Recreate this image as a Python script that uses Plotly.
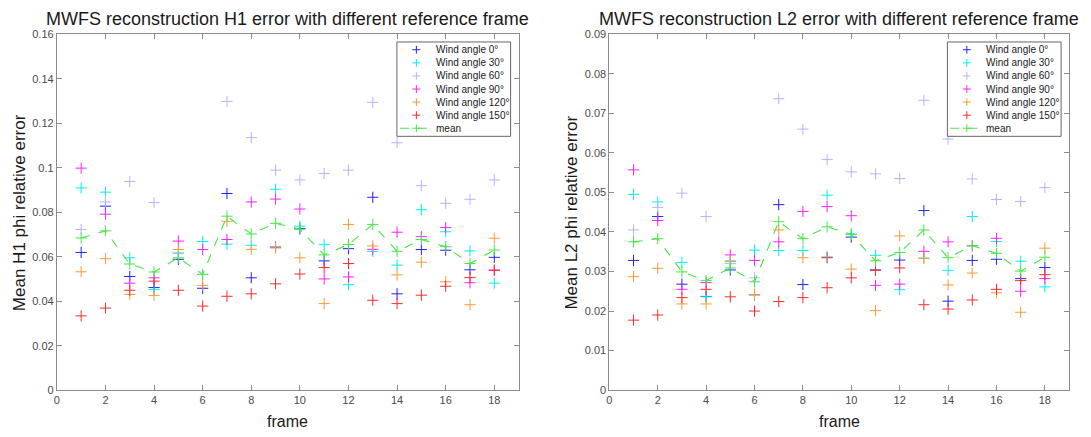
import plotly.graph_objects as go

# ---------------- data ----------------
frames = list(range(1, 19))

series_names = ["Wind angle 0°", "Wind angle 30°", "Wind angle 60°",
                "Wind angle 90°", "Wind angle 120°", "Wind angle 150°"]
series_colors = ["#2020ff", "#00f0f0", "#b4b4ff", "#ff20ff", "#ff9933", "#ff2a2a"]
mean_color = "#44e844"

# H1 relative error per wind angle
h1_0 = [0.0619, 0.0827, 0.0511, 0.0461, 0.0588, 0.0458, 0.0884, 0.0505, 0.0643,
        0.0726, 0.0581, 0.0636, 0.0867, 0.0433, 0.0632, 0.0629, 0.0541, 0.0597]
h1_30 = [0.0909, 0.0890, 0.0595, 0.0452, 0.0617, 0.0668, 0.0656, 0.0651, 0.0903,
         0.0737, 0.0654, 0.0474, 0.0624, 0.0562, 0.0811, 0.0712, 0.0626, 0.0481]
h1_60 = [0.0722, 0.0846, 0.0938, 0.0843, 0.0614, 0.0519, 0.1298, 0.1135, 0.0989,
         0.0945, 0.0974, 0.0989, 0.1294, 0.1112, 0.0919, 0.0840, 0.0858, 0.0945]
h1_90 = [0.0998, 0.0791, 0.0481, 0.0505, 0.0670, 0.0632, 0.0677, 0.0846, 0.0859,
         0.0814, 0.0500, 0.0509, 0.0633, 0.0710, 0.0690, 0.0731, 0.0483, 0.0538]
h1_120 = [0.0532, 0.0591, 0.0430, 0.0426, 0.0632, 0.0471, 0.0759, 0.0633, 0.0639,
          0.0595, 0.0389, 0.0745, 0.0648, 0.0518, 0.0575, 0.0487, 0.0384, 0.0683]
h1_150 = [0.0334, 0.0369, 0.0449, 0.0490, 0.0449, 0.0378, 0.0422, 0.0433, 0.0478,
          0.0522, 0.0551, 0.0569, 0.0404, 0.0389, 0.0427, 0.0467, 0.0506, 0.0540]
h1_mean = [0.0684, 0.0716, 0.0567, 0.0531, 0.0595, 0.0521, 0.0782, 0.0702, 0.0750,
           0.0723, 0.0608, 0.0655, 0.0745, 0.0624, 0.0677, 0.0645, 0.0569, 0.0630]

# L2 relative error per wind angle
l2_0 = [0.0328, 0.0439, 0.0268, 0.0237, 0.0304, 0.0241, 0.0469, 0.0267, 0.0335,
        0.0387, 0.0304, 0.0329, 0.0454, 0.0225, 0.0328, 0.0331, 0.0282, 0.0310]
l2_30 = [0.0495, 0.0476, 0.0323, 0.0236, 0.0325, 0.0354, 0.0353, 0.0353, 0.0493,
         0.0395, 0.0341, 0.0254, 0.0334, 0.0303, 0.0439, 0.0376, 0.0326, 0.0261]
l2_60 = [0.0405, 0.0462, 0.0498, 0.0439, 0.0320, 0.0284, 0.0737, 0.0660, 0.0583,
         0.0552, 0.0547, 0.0535, 0.0733, 0.0635, 0.0534, 0.0482, 0.0477, 0.0512]
l2_90 = [0.0557, 0.0429, 0.0255, 0.0272, 0.0342, 0.0328, 0.0375, 0.0452, 0.0464,
         0.0441, 0.0265, 0.0268, 0.0351, 0.0375, 0.0365, 0.0384, 0.0250, 0.0282]
l2_120 = [0.0287, 0.0308, 0.0218, 0.0218, 0.0327, 0.0242, 0.0405, 0.0335, 0.0337,
          0.0306, 0.0201, 0.0390, 0.0333, 0.0266, 0.0296, 0.0246, 0.0197, 0.0359]
l2_150 = [0.0177, 0.0190, 0.0234, 0.0255, 0.0236, 0.0200, 0.0224, 0.0234, 0.0259,
          0.0284, 0.0303, 0.0309, 0.0216, 0.0205, 0.0228, 0.0255, 0.0277, 0.0292]
l2_mean = [0.0375, 0.0383, 0.0299, 0.0277, 0.0309, 0.0274, 0.0426, 0.0383, 0.0413,
           0.0394, 0.0327, 0.0348, 0.0405, 0.0335, 0.0365, 0.0346, 0.0301, 0.0336]

x_ticks = [0, 2, 4, 6, 8, 10, 12, 14, 16, 18]

# ---------------- layout helpers ----------------
W, H = 1091, 437
FONT = "Liberation Sans, Arial, sans-serif"


def px(x):
    return x / W


def py(y):
    return 1 - y / H


panels = [
    dict(series=[h1_0, h1_30, h1_60, h1_90, h1_120, h1_150], mean=h1_mean,
         left=54, right=517, ymax=0.16, dtick=0.02,
         title="MWFS reconstruction H1 error with different reference frame",
         ylabel="Mean H1 phi relative error", xa="x", ya="y"),
    dict(series=[l2_0, l2_30, l2_60, l2_90, l2_120, l2_150], mean=l2_mean,
         left=608, right=1069, ymax=0.09, dtick=0.01,
         title="MWFS reconstruction L2 error with different reference frame",
         ylabel="Mean L2 phi relative error", xa="x2", ya="y2"),
]
TOP, BOTTOM = 29, 395

fig = go.Figure()
shapes = []
annotations = []

cross = dict(symbol="cross-thin", size=8)

for i, p in enumerate(panels):
    for vals, name, color in zip(p["series"], series_names, series_colors):
        fig.add_trace(go.Scatter(
            x=frames, y=vals, mode="markers", name=name, showlegend=False,
            marker=dict(**cross, color=color, line=dict(color=color, width=1)),
            xaxis=p["xa"], yaxis=p["ya"]))
    fig.add_trace(go.Scatter(
        x=frames, y=p["mean"], mode="lines+markers", name="mean", showlegend=False,
        line=dict(color=mean_color, width=1.1, dash="dash"),
        marker=dict(**cross, color=mean_color, line=dict(color=mean_color, width=1)),
        xaxis=p["xa"], yaxis=p["ya"]))

    suffix = "" if i == 0 else "2"
    axis_common = dict(showline=True, linecolor="#8c8c8c", linewidth=1,
                       mirror="ticks", ticks="inside", ticklen=5,
                       tickcolor="#8c8c8c", showgrid=False, zeroline=False,
                       tickfont=dict(family=FONT, size=11, color="#4a4a4a"))
    fig.update_layout(**{
        "xaxis" + suffix: dict(domain=[px(p["left"]), px(p["right"])],
                               range=[0, 19], tickvals=x_ticks,
                               anchor="y" + suffix, **axis_common),
        "yaxis" + suffix: dict(domain=[py(BOTTOM), py(TOP)],
                               range=[0, p["ymax"]], dtick=p["dtick"], tick0=0,
                               anchor="x" + suffix, **axis_common),
    })

    cx = (p["left"] + p["right"]) / 2
    annotations.append(dict(text=p["title"], x=px(cx), y=py(13), xref="paper",
                            yref="paper", showarrow=False, xanchor="center",
                            yanchor="middle",
                            font=dict(family=FONT, size=18, color="#1a1a1a")))
    annotations.append(dict(text="frame", x=px(cx), y=py(427), xref="paper",
                            yref="paper", showarrow=False, xanchor="center",
                            yanchor="middle",
                            font=dict(family=FONT, size=16, color="#1a1a1a")))
    annotations.append(dict(text=p["ylabel"], x=px(p["left"] - 38),
                            y=py((TOP + BOTTOM) / 2), xref="paper", yref="paper",
                            showarrow=False, textangle=-90, xanchor="center",
                            yanchor="middle",
                            font=dict(family=FONT, size=17, color="#1a1a1a")))

    # legend box in the upper-right corner of each panel
    bx0, bx1 = p["right"] - 122, p["right"] - 8
    by0, by1 = 37, 134
    shapes.append(dict(type="rect", xref="paper", yref="paper",
                       x0=px(bx0), x1=px(bx1), y0=py(by1), y1=py(by0),
                       line=dict(color="#666666", width=1), fillcolor="white",
                       layer="above"))
    entries = list(zip(series_names, series_colors)) + [("mean", mean_color)]
    row_gap = 13.45
    mx = bx0 + 19.5
    for j, (name, color) in enumerate(entries):
        ry = 45 + j * row_gap
        if name == "mean":
            shapes.append(dict(type="line", xref="paper", yref="paper",
                               x0=px(bx0 + 3), x1=px(bx0 + 36), y0=py(ry), y1=py(ry),
                               line=dict(color=color, width=1.1, dash="dash"),
                               layer="above"))
        shapes.append(dict(type="line", xref="paper", yref="paper",
                           x0=px(mx - 4), x1=px(mx + 4), y0=py(ry), y1=py(ry),
                           line=dict(color=color, width=1), layer="above"))
        shapes.append(dict(type="line", xref="paper", yref="paper",
                           x0=px(mx), x1=px(mx), y0=py(ry - 4), y1=py(ry + 4),
                           line=dict(color=color, width=1), layer="above"))
        annotations.append(dict(text=name, x=px(bx0 + 37), y=py(ry), xref="paper",
                                yref="paper", showarrow=False, xanchor="left",
                                yanchor="middle",
                                font=dict(family=FONT, size=10, color="#1a1a1a")))

fig.update_layout(
    width=W, height=H, autosize=False,
    margin=dict(l=0, r=0, t=0, b=0),
    paper_bgcolor="white", plot_bgcolor="white",
    showlegend=False,
    shapes=shapes, annotations=annotations,
)

fig.write_html("out.html")
